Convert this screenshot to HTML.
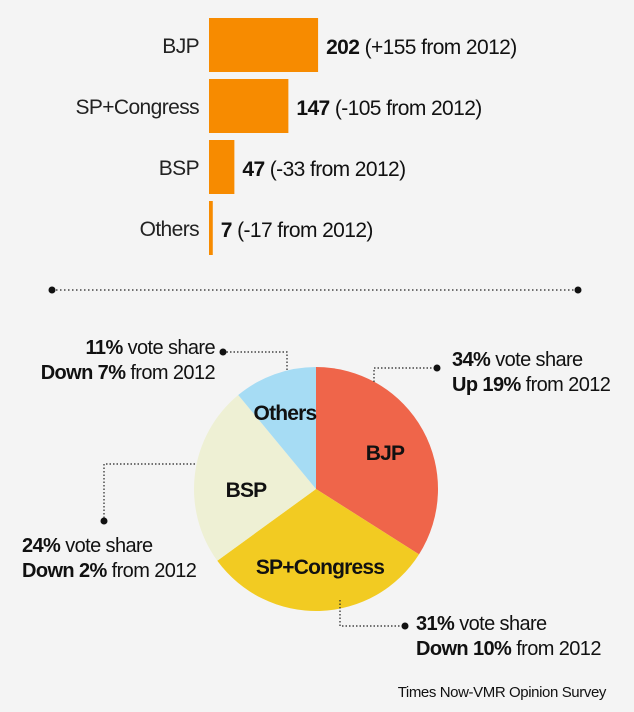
<!DOCTYPE html>
<html><head><meta charset="utf-8"><style>
body{margin:0;background:#f4f4f4;}
svg{display:block;font-family:"Liberation Sans Narrow","Liberation Sans",sans-serif;}
</style></head><body>
<svg width="634" height="712" viewBox="0 0 634 712">
<rect width="634" height="712" fill="#f4f4f4"/>
<g id="bars"></g>
<g>
<line x1="52" y1="290" x2="578" y2="290" stroke="#222" stroke-width="1.3" stroke-dasharray="1.5,2.5"/>
<circle cx="52" cy="290" r="3.5" fill="#111"/><circle cx="578" cy="290" r="3.5" fill="#111"/>
</g>
<g id="pie"></g>
<g id="callouts" font-size="20" letter-spacing="-0.6" fill="#111"></g>
<text x="606" y="697" text-anchor="end" font-size="15" letter-spacing="-0.4" fill="#111">Times Now-VMR Opinion Survey</text>
</svg>
<script>
const parties=["BJP","SP+Congress","BSP","Others"];
const seats=[202,147,47,7];
const seatChange=["+155","-105","-33","-17"];
const voteShare=[34,31,24,11];
const voteChange=["Up 19%","Down 10%","Down 2%","Down 7%"];
const NS="http://www.w3.org/2000/svg";
function mk(t,a,p){const e=document.createElementNS(NS,t);for(const k in a)e.setAttribute(k,a[k]);p.appendChild(e);return e;}
const bars=document.getElementById('bars');
const x0=209,sx=v=>v*0.54;
parties.forEach((p,i)=>{
  const y=18+i*61;
  const r=mk('rect',{x:x0,y:y,width:sx(seats[i]),height:54,fill:'#f78b00'},bars);
  
  
  const l=mk('text',{x:199,y:y+35,'text-anchor':'end','font-size':21,'letter-spacing':'-0.6',fill:'#222'},bars);
  l.textContent=p;
  
  
  const v=mk('text',{x:x0+sx(seats[i])+8,y:y+36,'font-size':21,'letter-spacing':'-0.6',fill:'#111'},bars);
  v.innerHTML='<tspan font-weight="bold">'+seats[i]+'</tspan> ('+seatChange[i]+' from 2012)';
  
  
});
const pie=document.getElementById('pie');
const cx=316,cy=489,R=122;
const colors=["#ef654a","#f2cb22","#eef0d4","#a6dcf4"];
const labelPos=[[385,452],[320,566],[246,489],[285,412]];
let a=0;const tot=voteShare.reduce((s,v)=>s+v,0);
voteShare.forEach((v,i)=>{
  const a1=a+v/tot*2*Math.PI;
  const p=(t)=>[cx+R*Math.sin(t),cy-R*Math.cos(t)];
  const [x1,y1]=p(a),[x2,y2]=p(a1);
  const s=mk('path',{d:`M${cx},${cy}L${x1},${y1}A${R},${R} 0 ${a1-a>Math.PI?1:0} 1 ${x2},${y2}Z`,fill:colors[i]},pie);
  
  
  a=a1;
});
parties.forEach((p,i)=>{
  const t=mk('text',{x:labelPos[i][0],y:labelPos[i][1]+8,'text-anchor':'middle','font-size':21,'font-weight':'bold','letter-spacing':'-0.8',fill:'#111'},pie);
  t.textContent=p;
  
  
});
const co=document.getElementById('callouts');
const lines=[["M374,382V368H437",437,368],["M340,600V626H405",405,626],["M195,464H104V521",104,521],["M287,370V352H223",223,352]];
const txt=[[452,366,'start'],[416,630,'start'],[22,552,'start'],[215,354,'end']];
parties.forEach((p,i)=>{
  const l=mk('path',{d:lines[i][0],fill:'none',stroke:'#222','stroke-width':1.2,'stroke-dasharray':'1.5,2'},co);
  
  
  mk('circle',{cx:lines[i][1],cy:lines[i][2],r:3.5,fill:'#111'},co);
  const [tx,ty,anc]=txt[i];
  const t1=mk('text',{x:tx,y:ty,'text-anchor':anc},co);
  t1.innerHTML='<tspan font-weight="bold">'+voteShare[i]+'%</tspan> vote share';
  
  
  const t2=mk('text',{x:tx,y:ty+25,'text-anchor':anc},co);
  t2.innerHTML='<tspan font-weight="bold">'+voteChange[i]+'</tspan> from 2012';
  
  
});
</script>
</body></html>
